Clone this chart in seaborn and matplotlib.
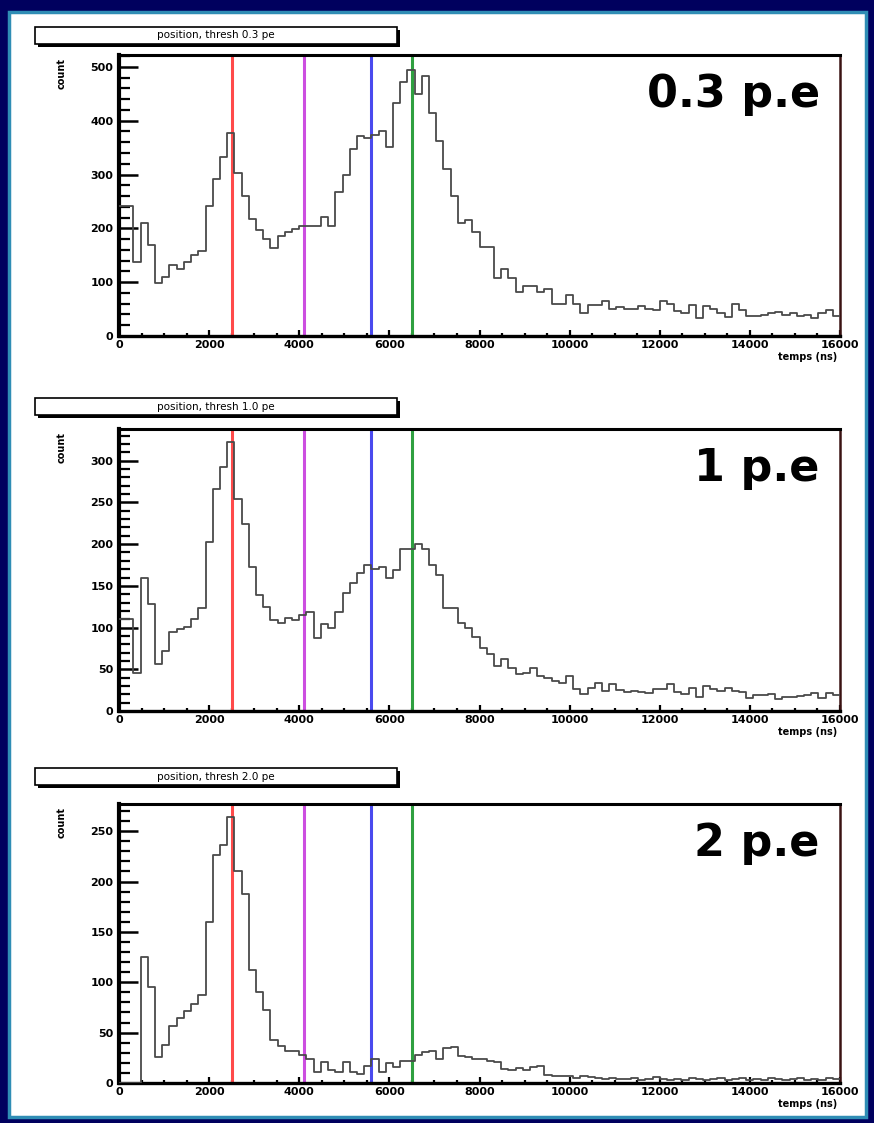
import numpy as np
import pandas as pd
import matplotlib
matplotlib.use('Agg')
import matplotlib.pyplot as plt
from matplotlib.patches import Rectangle
from matplotlib.ticker import MultipleLocator
import seaborn as sns

# histogram binning (ns)
bin_width = 160
t_max = 16000

counts_03 = [242, 242, 138, 210, 169, 99, 109, 131, 124, 138,
             150, 158, 242, 291, 332, 378, 303, 261, 217, 196,
             181, 164, 185, 193, 199, 204, 204, 204, 221, 204,
             267, 300, 348, 372, 368, 373, 380, 351, 432, 471,
             494, 449, 483, 415, 363, 310, 260, 210, 216, 193,
             165, 165, 107, 125, 107, 82, 93, 93, 82, 88,
             60, 60, 76, 60, 43, 57, 57, 65, 51, 54,
             51, 51, 56, 51, 49, 65, 60, 47, 42, 57,
             33, 56, 51, 42, 36, 59, 48, 37, 37, 39,
             42, 44, 39, 43, 37, 39, 33, 42, 48, 37]

counts_10 = [110, 110, 45, 159, 128, 56, 72, 95, 98, 101,
             110, 123, 202, 266, 293, 322, 254, 224, 173, 139,
             125, 109, 105, 111, 109, 115, 119, 87, 104, 100,
             119, 141, 153, 165, 175, 170, 173, 159, 169, 194,
             194, 200, 194, 175, 163, 124, 124, 106, 100, 89,
             76, 68, 54, 62, 52, 44, 45, 52, 42, 39,
             36, 34, 42, 26, 20, 28, 34, 24, 32, 25,
             23, 24, 23, 21, 26, 26, 32, 23, 20, 28,
             17, 30, 26, 24, 28, 24, 23, 16, 19, 19,
             20, 14, 17, 17, 18, 19, 22, 15, 21, 19]

counts_20 = [0, 0, 0, 125, 95, 26, 38, 57, 65, 71,
             78, 87, 160, 226, 236, 264, 210, 188, 112, 90,
             72, 43, 37, 32, 32, 28, 24, 11, 21, 13,
             11, 21, 11, 9, 17, 24, 11, 20, 16, 22,
             22, 28, 31, 32, 24, 35, 36, 27, 26, 24,
             24, 22, 21, 14, 13, 15, 13, 16, 17, 8,
             7, 7, 7, 5, 7, 6, 5, 4, 5, 4,
             4, 5, 3, 4, 6, 4, 3, 4, 3, 5,
             4, 3, 4, 5, 3, 4, 5, 3, 4, 3,
             5, 4, 3, 4, 5, 3, 4, 3, 5, 4]

thresholds = ['0.3', '1.0', '2.0']
big_labels = ['0.3 p.e', '1 p.e', '2 p.e']
y_max = [522, 338, 277]
y_major = [100, 50, 50]
y_minor = [20, 10, 10]

marker_times = [2500, 4100, 5600, 6500]
marker_colors = ['#ff4a4a', '#cc4ee0', '#4a4aee', '#2fa040']

sns.set_style('ticks')
plt.rcParams['font.family'] = ['DejaVu Sans']
plt.rcParams['text.color'] = 'black'
plt.rcParams['xtick.color'] = 'black'
plt.rcParams['ytick.color'] = 'black'

W, H = 874, 1123
fig = plt.figure(figsize=(W / 100, H / 100), dpi=100, facecolor='#00005e')
fig.patches.append(Rectangle((9 / W, 1 - 1117 / H), 857 / W, 1105 / H,
                             transform=fig.transFigure, facecolor='white',
                             edgecolor='#2f8db5', lw=2.5, zorder=-10))

# axes frames in pixels: (top, bottom)
frames = [(55, 336), (429, 711), (804, 1083)]
title_tops = [27, 398, 768]

n_bins = t_max // bin_width
centers = np.arange(n_bins) * bin_width + bin_width / 2

for i, counts in enumerate([counts_03, counts_10, counts_20]):
    top, bot = frames[i]
    ax = fig.add_axes([119 / W, 1 - bot / H, 721 / W, (bot - top) / H])
    ax.set_facecolor('none')
    df = pd.DataFrame({'temps': centers, 'count': counts})
    sns.histplot(data=df, x='temps', weights='count', bins=n_bins,
                 binrange=(0, t_max), element='step', fill=False,
                 color='#4a4a4a', linewidth=1.3, ax=ax, zorder=3)
    for t, c in zip(marker_times, marker_colors):
        ax.axvline(t, color=c, lw=2.2, zorder=2)

    ax.set_xlim(0, t_max)
    ax.set_ylim(0, y_max[i])
    ax.xaxis.set_major_locator(MultipleLocator(2000))
    ax.xaxis.set_minor_locator(MultipleLocator(500))
    ax.yaxis.set_major_locator(MultipleLocator(y_major[i]))
    ax.yaxis.set_minor_locator(MultipleLocator(y_minor[i]))
    ax.tick_params(axis='y', which='major', direction='in', length=14,
                   width=1.8, pad=4, labelsize=8, colors='black')
    ax.tick_params(axis='y', which='minor', direction='in', length=8,
                   width=1.6, colors='black')
    ax.tick_params(axis='x', which='major', direction='in', length=4,
                   width=1.6, pad=3, labelsize=8, colors='black')
    ax.tick_params(axis='x', which='minor', direction='in', length=2,
                   width=1.6, colors='black')
    for lab in ax.get_xticklabels() + ax.get_yticklabels():
        lab.set_fontweight('bold')

    for side, w in [('left', 3.0), ('bottom', 2.4), ('top', 2.2), ('right', 1.8)]:
        ax.spines[side].set_visible(True)
        ax.spines[side].set_linewidth(w)
        ax.spines[side].set_color('black')
    ax.spines['right'].set_color('#3a1212')

    ax.set_xlabel('')
    ax.set_ylabel('')
    ax.text(-0.079, 0.99, 'count', transform=ax.transAxes, rotation=90,
            ha='center', va='top', fontsize=7, fontweight='bold', color='black')
    ax.text(0.996, -0.075, 'temps (ns)', transform=ax.transAxes,
            ha='right', va='center', fontsize=7, fontweight='bold', color='black')
    ax.text(0.972, 0.86, big_labels[i], transform=ax.transAxes,
            ha='right', va='center', fontsize=32, fontweight='bold', color='black')

    # title box with shadow
    ty = title_tops[i]
    fig.patches.append(Rectangle((38 / W, 1 - (ty + 20) / H), 362 / W, 17 / H,
                                 transform=fig.transFigure, facecolor='black',
                                 edgecolor='none', zorder=1))
    fig.patches.append(Rectangle((35 / W, 1 - (ty + 17) / H), 362 / W, 17 / H,
                                 transform=fig.transFigure, facecolor='white',
                                 edgecolor='black', lw=1.2, zorder=2))
    fig.text(216 / W, 1 - (ty + 8.5) / H, f'position, thresh {thresholds[i]} pe',
             ha='center', va='center', fontsize=7.5, color='black', zorder=3)

fig.savefig('out.png', dpi=100, facecolor=fig.get_facecolor())
